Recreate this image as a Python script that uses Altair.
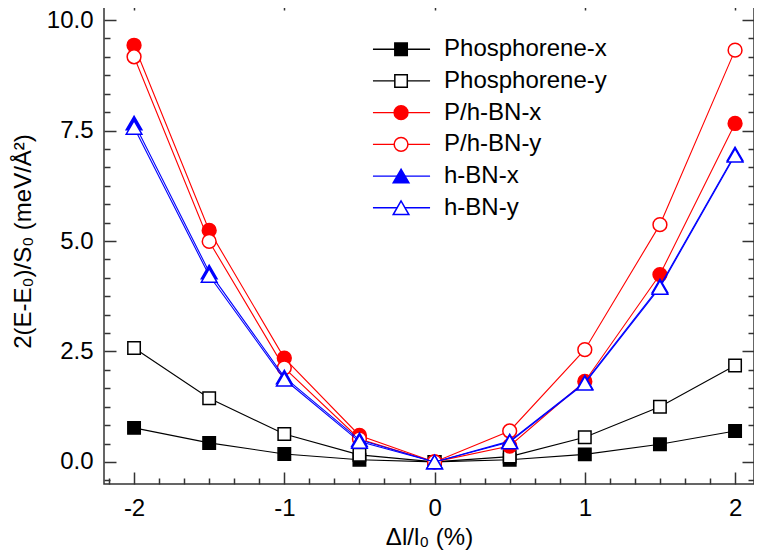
import altair as alt
import pandas as pd

FONT = "Liberation Sans"

# ---- data ----
strain = [-2, -1.5, -1, -0.5, 0, 0.5, 1, 1.5, 2]
series_names = ["Phosphorene-x", "Phosphorene-y", "P/h-BN-x", "P/h-BN-y", "h-BN-x", "h-BN-y"]
phos_x = [0.77, 0.43, 0.18, 0.05, 0.0, 0.05, 0.17, 0.40, 0.70]
phos_y = [2.58, 1.44, 0.63, 0.16, 0.0, 0.12, 0.56, 1.25, 2.18]
phbn_x = [9.43, 5.24, 2.35, 0.60, 0.0, 0.36, 1.82, 4.24, 7.66]
phbn_y = [9.17, 4.99, 2.13, 0.52, 0.0, 0.70, 2.54, 5.37, 9.32]
hbn_x = [7.67, 4.30, 1.92, 0.50, 0.0, 0.47, 1.80, 3.98, 6.97]
hbn_y = [7.57, 4.22, 1.87, 0.46, 0.0, 0.45, 1.78, 3.95, 6.94]
values = [phos_x, phos_y, phbn_x, phbn_y, hbn_x, hbn_y]

x_major = [-2, -1, 0, 1, 2]
y_major = [0, 2.5, 5, 7.5, 10]

# ---- styles ----
colors = ["#000000", "#000000", "#FF0000", "#FF0000", "#0000FF", "#0000FF"]
shapes = ["square", "square", "circle", "circle", "triangle-up", "triangle-up"]
filled = [True, False, True, False, True, False]
sizes = {"square": 155, "circle": 190, "triangle-up": 245}

X_DOMAIN = [-2.2, 2.126]
Y_DOMAIN = [-0.5, 10.5]
x_minor = [k / 6 for k in range(-13, 13) if k % 6 != 0]
y_minor = [k * 2.5 / 6 for k in range(-1, 26) if k % 6 != 0]

TICK_COLOR = "#333333"
FS = 24

def axis_major_x_bottom():
    return alt.Axis(orient="bottom", values=x_major, tickSize=12, offset=-12, domain=False,
                    labelPadding=12, labelFontSize=FS, labelFont=FONT, labelColor="black",
                    labelExpr="'' + datum.value", labelFlush=False, labelOverlap=False,
                    title="Δl/l₀ (%)", titleFontSize=FS, titleFont=FONT, titleFontWeight="normal",
                    titleColor="black", titlePadding=5, tickColor=TICK_COLOR, tickWidth=1.5, grid=False)

def axis_major_y_left():
    return alt.Axis(orient="left", values=y_major, tickSize=12, offset=-12, domain=False,
                    labelPadding=11, labelFontSize=FS, labelFont=FONT, labelColor="black",
                    labelExpr="format(datum.value, '.1f')", labelFlush=False, labelOverlap=False,
                    title="2(E-E₀)/S₀ (meV/Å²)", titleFontSize=FS, titleFont=FONT,
                    titleFontWeight="normal", titleColor="black", titlePadding=11,
                    tickColor=TICK_COLOR, tickWidth=1.5, grid=False)

def axis_plain(orient, vals, size):
    return alt.Axis(orient=orient, values=vals, tickSize=size, offset=-size, domain=False,
                    labels=False, title=None, tickColor=TICK_COLOR, tickWidth=1.5, grid=False)

axis_sets = [
    (axis_major_x_bottom(), axis_major_y_left()),
    (axis_plain("bottom", x_minor, 6), axis_plain("left", y_minor, 6)),
    (axis_plain("top", x_major, 12), axis_plain("right", y_major, 12)),
    (axis_plain("top", x_minor, 6), axis_plain("right", y_minor, 6)),
]

xs = alt.Scale(domain=X_DOMAIN, nice=False, zero=False)
ys = alt.Scale(domain=Y_DOMAIN, nice=False, zero=False)

# legend placement (data units)
LEG_X0, LEG_X1, LEG_MX, LEG_TX = -0.410, -0.030, -0.223, 0.063
LEG_Y0, LEG_DY = 9.34, 0.7175
legend_df = pd.DataFrame({
    "series": series_names,
    "lx0": [LEG_X0] * 6, "lx1": [LEG_X1] * 6, "mx": [LEG_MX] * 6, "tx": [LEG_TX] * 6,
    "ly": [LEG_Y0 - LEG_DY * i for i in range(6)],
})

layers = []
ax_i = 0

def next_axes():
    global ax_i
    if ax_i < len(axis_sets):
        a = axis_sets[ax_i]
        ax_i += 1
        return a
    return (None, None)

for i, name in enumerate(series_names):
    d = pd.DataFrame({"x": strain, "y": values[i], "series": name})
    ax, ay = next_axes()
    line = alt.Chart(d).mark_line(color=colors[i], strokeWidth=1.1).encode(
        x=alt.X("x:Q", scale=xs, axis=ax),
        y=alt.Y("y:Q", scale=ys, axis=ay),
    )
    ax, ay = next_axes()
    pts = alt.Chart(d).mark_point(
        shape=shapes[i], size=sizes[shapes[i]], filled=True,
        fill=colors[i] if filled[i] else "white", stroke=colors[i],
        strokeWidth=1.5, opacity=1, fillOpacity=1,
    ).encode(
        x=alt.X("x:Q", scale=xs, axis=ax),
        y=alt.Y("y:Q", scale=ys, axis=ay),
    )
    layers += [line, pts]

for i, name in enumerate(series_names):
    row = legend_df.iloc[[i]]
    lrule = alt.Chart(row).mark_rule(color=colors[i], strokeWidth=1.3).encode(
        x=alt.X("lx0:Q", scale=xs, axis=None), x2="lx1:Q",
        y=alt.Y("ly:Q", scale=ys, axis=None),
    )
    lpt = alt.Chart(row).mark_point(
        shape=shapes[i], size=sizes[shapes[i]], filled=True,
        fill=colors[i] if filled[i] else "white", stroke=colors[i],
        strokeWidth=1.5, opacity=1, fillOpacity=1,
    ).encode(
        x=alt.X("mx:Q", scale=xs, axis=None),
        y=alt.Y("ly:Q", scale=ys, axis=None),
    )
    layers += [lrule, lpt]

ltext = alt.Chart(legend_df).mark_text(
    align="left", baseline="middle", fontSize=FS, font=FONT, color="black"
).encode(
    x=alt.X("tx:Q", scale=xs, axis=None),
    y=alt.Y("ly:Q", scale=ys, axis=None),
    text="series:N",
)
layers.append(ltext)

chart = alt.LayerChart(layer=layers).resolve_axis(
    x="independent", y="independent"
).properties(
    width=650, height=486,
    padding={"left": 96, "top": -10, "right": 0, "bottom": 68},
    autosize=alt.AutoSizeParams(type="none"),
).configure_view(
    stroke="#333333", strokeWidth=1.5
).configure_axis(grid=False)

chart.save("out.html", embed_options={"renderer": "svg", "actions": False})
